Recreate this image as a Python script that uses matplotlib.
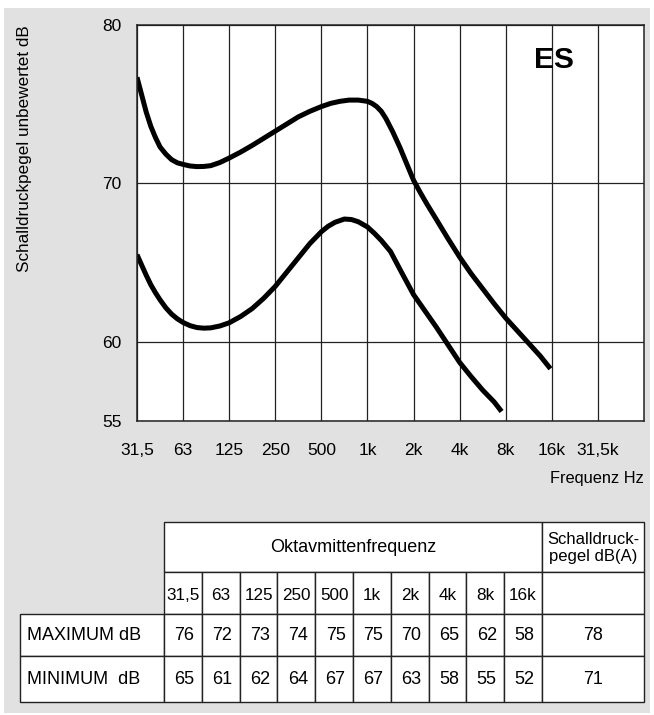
import matplotlib
matplotlib.use("Agg")
import matplotlib.pyplot as plt
from matplotlib.patches import Rectangle

plt.rcParams['font.family'] = ['Liberation Sans', 'DejaVu Sans']

# x axis: one step per octave, starting at 31,5 Hz
octave_labels = ["31,5", "63", "125", "250", "500", "1k", "2k", "4k", "8k", "16k", "31,5k"]
y_ticks = [55, 60, 70, 80]

# curves (x = octaves above 31,5 Hz, y = dB)
max_x = [0.0, 0.1, 0.2, 0.3, 0.4, 0.5, 0.625, 0.75, 0.875, 1.0, 1.15, 1.3, 1.45, 1.6, 1.8,
         2.0, 2.25, 2.5, 2.75, 3.0, 3.25, 3.5, 3.75, 4.0, 4.2, 4.4, 4.6, 4.8, 5.0, 5.1,
         5.2, 5.3, 5.4, 5.55, 5.7, 5.85, 6.0, 6.15, 6.3, 6.5, 6.75, 7.0, 7.25, 7.5, 7.75,
         8.0, 8.25, 8.5, 8.75, 8.97]
max_y = [76.7, 75.6, 74.5, 73.6, 72.9, 72.3, 71.85, 71.5, 71.3, 71.2, 71.1, 71.06, 71.07, 71.12, 71.32,
         71.6, 71.98, 72.4, 72.85, 73.3, 73.75, 74.2, 74.55, 74.85, 75.05, 75.18, 75.26, 75.26, 75.18, 75.05,
         74.85, 74.55, 74.1, 73.25, 72.3, 71.25, 70.2, 69.4, 68.65, 67.7, 66.5, 65.35, 64.3, 63.35, 62.4,
         61.5, 60.7, 59.9, 59.1, 58.3]

min_x = [0.0, 0.1, 0.2, 0.3, 0.4, 0.5, 0.625, 0.75, 0.875, 1.0, 1.15, 1.3, 1.45, 1.6, 1.8,
         2.0, 2.25, 2.5, 2.75, 3.0, 3.25, 3.5, 3.75, 4.0, 4.15, 4.3, 4.5, 4.65, 4.8, 5.0,
         5.15, 5.3, 5.5, 5.75, 6.0, 6.25, 6.5, 6.75, 7.0, 7.25, 7.5, 7.75, 7.91]
min_y = [65.5, 64.85, 64.2, 63.6, 63.1, 62.65, 62.15, 61.75, 61.45, 61.22, 61.02, 60.9, 60.86, 60.88, 61.0,
         61.2, 61.6, 62.1, 62.75, 63.5, 64.4, 65.3, 66.2, 66.95, 67.3, 67.55, 67.75, 67.72, 67.58, 67.25,
         66.85, 66.4, 65.7, 64.33, 62.98, 61.94, 60.9, 59.8, 58.7, 57.8, 56.95, 56.2, 55.6]

# table
table_freqs = ["31,5", "63", "125", "250", "500", "1k", "2k", "4k", "8k", "16k"]
max_db = [76, 72, 73, 74, 75, 75, 70, 65, 62, 58]
min_db = [65, 61, 62, 64, 67, 67, 63, 58, 55, 52]
max_dba = 78
min_dba = 71

W, H = 654, 715
fig = plt.figure(figsize=(W / 100, H / 100), dpi=100)
fig.patch.set_facecolor("white")


def fx(px):
    return px / W


def fy(py):
    return 1 - py / H


# grey panel behind everything
bg = fig.add_axes([0, 0, 1, 1], zorder=-5)
bg.set_xlim(0, W)
bg.set_ylim(H, 0)
bg.axis("off")
bg.add_patch(Rectangle((4, 8), 646, 705, facecolor="#e1e1e1", edgecolor="none"))

# ---- chart ----
ax = fig.add_axes([fx(137), fy(421), (644 - 137) / W, (421 - 25) / H], zorder=1)
ax.set_facecolor("white")
ax.set_xlim(0, 11)
ax.set_ylim(55, 80)
ax.set_xticks(range(len(octave_labels)))
ax.set_xticklabels(octave_labels)
ax.set_yticks(y_ticks)
ax.tick_params(axis="x", length=0, pad=16, labelsize=12.5)
ax.tick_params(axis="y", length=0, pad=11, labelsize=12.5)
ax.grid(True, color="#222222", lw=0.9)
ax.set_axisbelow(True)
for s in ax.spines.values():
    s.set_color("#222222")
    s.set_linewidth(1.1)

ax.plot(max_x, max_y, color="black", lw=3.6, solid_joinstyle="round", solid_capstyle="butt")
ax.plot(min_x, min_y, color="black", lw=3.6, solid_joinstyle="round", solid_capstyle="butt")

ax.text(9.05, 77.8, "ES", ha="center", va="center", fontsize=21.5, fontweight="bold")

fig.text(fx(644), fy(479), "Frequenz Hz", ha="right", va="center", fontsize=11.8)
fig.text(fx(25), fy(149), "Schalldruckpegel unbewertet dB", rotation=90,
         ha="center", va="center", fontsize=12.3)

# ---- table ----
tab = fig.add_axes([0, 0, 1, 1], zorder=2)
tab.set_xlim(0, W)
tab.set_ylim(H, 0)
tab.axis("off")
tab.patch.set_alpha(0)

x0, x1, x2 = 164, 542, 644
cw = (x1 - x0) / len(table_freqs)
rows = [522, 572, 614, 656, 702]


def cell(xa, ya, xb, yb):
    tab.add_patch(Rectangle((xa, ya), xb - xa, yb - ya, facecolor="white",
                            edgecolor="#222222", lw=1.0))


cell(x0, rows[0], x1, rows[1])
cell(x1, rows[0], x2, rows[1])
tab.text((x0 + x1) / 2, (rows[0] + rows[1]) / 2 + 1, "Oktavmittenfrequenz",
         ha="center", va="center", fontsize=13)
tab.text((x1 + x2) / 2, (rows[0] + rows[1]) / 2 + 1, "Schalldruck-\npegel dB(A)",
         ha="center", va="center", fontsize=12, linespacing=1.1)

for i, f in enumerate(table_freqs):
    cell(x0 + i * cw, rows[1], x0 + (i + 1) * cw, rows[2])
    tab.text(x0 + (i + 0.5) * cw, (rows[1] + rows[2]) / 2 + 3, f,
             ha="center", va="center", fontsize=12.3)
cell(x1, rows[1], x2, rows[2])

for r, (label, vals, dba) in enumerate([("MAXIMUM dB", max_db, max_dba),
                                        ("MINIMUM  dB", min_db, min_dba)]):
    ya, yb = rows[2 + r], rows[3 + r]
    cell(20, ya, x0, yb)
    tab.text(27, (ya + yb) / 2, label, ha="left", va="center", fontsize=13)
    for i, v in enumerate(vals):
        cell(x0 + i * cw, ya, x0 + (i + 1) * cw, yb)
        tab.text(x0 + (i + 0.5) * cw + 1.5, (ya + yb) / 2, str(v),
                 ha="center", va="center", fontsize=13)
    cell(x1, ya, x2, yb)
    tab.text((x1 + x2) / 2, (ya + yb) / 2, str(dba), ha="center", va="center", fontsize=13)

fig.savefig("out.png", dpi=100, facecolor=fig.get_facecolor())
